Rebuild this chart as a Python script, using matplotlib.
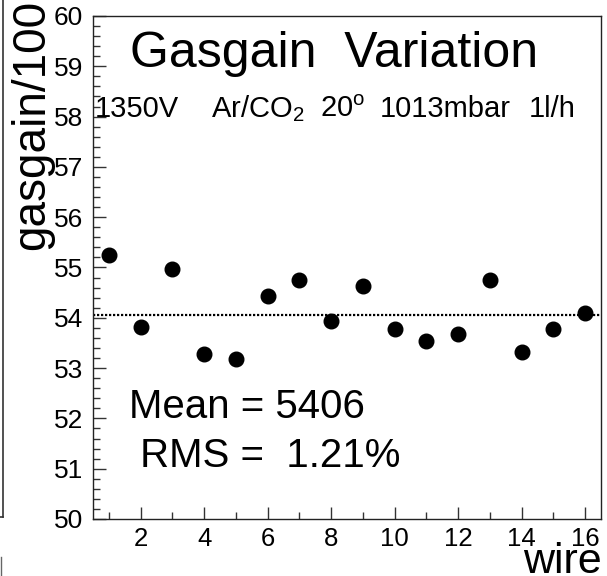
import matplotlib
matplotlib.use("Agg")
import matplotlib.pyplot as plt
from matplotlib.ticker import MultipleLocator
from matplotlib.lines import Line2D

plt.rcParams['font.family'] = ['Liberation Sans', 'DejaVu Sans']
plt.rcParams['mathtext.fontset'] = 'custom'
plt.rcParams['mathtext.rm'] = 'Liberation Sans'
plt.rcParams['mathtext.it'] = 'Liberation Sans'
plt.rcParams['mathtext.bf'] = 'Liberation Sans:bold'

# Data
wires = [1, 2, 3, 4, 5, 6, 7, 8, 9, 10, 11, 12, 13, 14, 15, 16]
gain = [55.25, 53.81, 54.97, 53.29, 53.18, 54.44, 54.75, 53.94,
        54.63, 53.77, 53.54, 53.67, 54.75, 53.32, 53.78, 54.09]
mean_level = 54.06
title = "Gasgain  Variation"
subtitle_parts = ["1350V", r"Ar/CO$_2$", r"20$^{\mathrm{o}}$", "1013mbar", "1l/h"]
stats = ["Mean = 5406", " RMS =  1.21%"]
x_ticks = [2, 4, 6, 8, 10, 12, 14, 16]
y_ticks = [50, 51, 52, 53, 54, 55, 56, 57, 58, 59, 60]

W, H = 607, 576
fig = plt.figure(figsize=(W / 100, H / 100), dpi=100)
ax = fig.add_axes([93 / W, (H - 519) / H, (601 - 93) / W, (519 - 16) / H])

ax.plot(wires, gain, 'o', color='black', markersize=10.5, zorder=3)
ax.axhline(mean_level, color='black', lw=1.6, ls=(0, (1, 0.8)), zorder=2)

ax.set_xlim(0.5, 16.5)
ax.set_ylim(50, 60)
ax.set_xticks(x_ticks)
ax.set_yticks(y_ticks)
ax.xaxis.set_minor_locator(MultipleLocator(1))
ax.yaxis.set_minor_locator(MultipleLocator(0.2))
ax.tick_params(which='both', direction='in', top=False, right=False,
               width=1, color='#333333')
ax.tick_params(which='major', length=9)
ax.tick_params(which='minor', length=5)
ax.tick_params(axis='x', pad=6, labelsize=18.5)
ax.tick_params(axis='y', pad=7, labelsize=19)
for s in ax.spines.values():
    s.set_linewidth(1.0)
    s.set_color('#222222')

# Texts
ax.text(130 / W, 1 - 67 / H, title, transform=fig.transFigure, fontsize=36,
        ha='left', va='baseline')
sub_x = [95, 211, 320, 380, 529]
for part, px in zip(subtitle_parts, sub_x):
    ax.text(px / W, 1 - 117 / H, part, transform=fig.transFigure, fontsize=21,
            ha='left', va='baseline')
ax.text(129 / W, 1 - 418 / H, stats[0], transform=fig.transFigure, fontsize=29,
        ha='left', va='baseline')
ax.text(129 / W, 1 - 467 / H, stats[1], transform=fig.transFigure, fontsize=29,
        ha='left', va='baseline')

fig.text(32 / W, 1.0, "gasgain/100", rotation=90, fontsize=33,
         ha='center', va='top')
fig.text(602 / W, 1 - 573 / H, "wire", fontsize=31, ha='right', va='baseline')

# neighbouring panel fragments at the left edge
fig.add_artist(Line2D([3 / W, 3 / W], [1.0, 1 - 517 / H], transform=fig.transFigure,
                      color='#333333', lw=1.2))
fig.add_artist(Line2D([0, 3 / W], [1 - 517 / H, 1 - 517 / H], transform=fig.transFigure,
                      color='#333333', lw=1.2))
fig.add_artist(Line2D([1 / W, 1 / W], [1 - 557 / H, 0], transform=fig.transFigure,
                      color='#666666', lw=1.0))

fig.savefig("out.png", dpi=100)
